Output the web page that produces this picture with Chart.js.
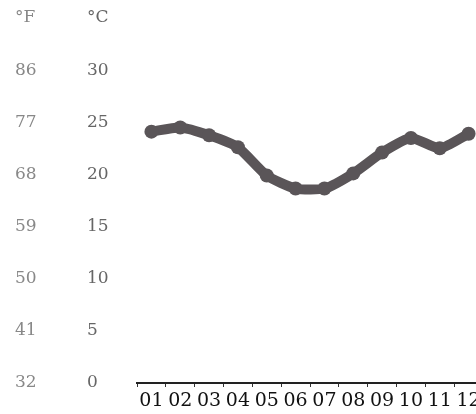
<!DOCTYPE html>
<html>
<head>
<meta charset="utf-8">
<script src="https://cdn.jsdelivr.net/npm/chart.js@4"></script>
<style>
html,body{margin:0;padding:0;overflow:hidden;background:#fff;}
canvas{display:block;}
</style>
</head>
<body>
<canvas id="c" width="490" height="414"></canvas>
<script>
const months = ['01','02','03','04','05','06','07','08','09','10','11','12'];
const tempC = [24.1, 24.5, 23.75, 22.6, 19.9, 18.65, 18.65, 20.1, 22.1, 23.5, 22.5, 23.9];
const cTicks = [0, 5, 10, 15, 20, 25, 30];
const fTicks = [32, 41, 50, 59, 68, 77, 86];
const cHeader = '°C';
const fHeader = '°F';

const C_MIN = 0, C_MAX = 35;

new Chart(document.getElementById('c'), {
  type: 'line',
  data: {
    labels: months,
    datasets: [{
      data: tempC,
      borderColor: '#5a5558',
      backgroundColor: '#5a5558',
      borderWidth: 10,
      pointRadius: 7,
      pointBorderWidth: 0,
      pointBackgroundColor: '#5a5558',
      tension: 0.2,
      yAxisID: 'y'
    }]
  },
  options: {
    responsive: false,
    devicePixelRatio: 1,
    animation: false,
    layout: { padding: { left: 15, top: 18, right: 5, bottom: 0 } },
    plugins: { legend: { display: false }, tooltip: { enabled: false } },
    scales: {
      x: {
        type: 'category',
        offset: true,
        grid: { display: true, drawOnChartArea: false, drawTicks: true, tickLength: 4, color: '#333', lineWidth: 1, offset: true },
        border: { display: true, color: '#222', width: 2 },
        ticks: { color: '#111', font: { family: 'DejaVu Serif', size: 19 }, padding: 3, maxRotation: 0, autoSkip: false },
        afterFit: s => { s.height = 31; }
      },
      y: {
        position: 'left',
        weight: 0,
        min: C_MIN, max: C_MAX,
        grid: { display: false },
        border: { display: false },
        ticks: {
          stepSize: 5,
          crossAlign: 'far',
          color: '#666',
          font: { family: 'DejaVu Serif', size: 17 },
          callback: v => (v === C_MAX ? cHeader : (cTicks.includes(v) ? String(v) : ''))
        },
        afterFit: s => { s.width = 50; }
      },
      yF: {
        position: 'left',
        weight: 10,
        min: C_MIN * 9 / 5 + 32, max: C_MAX * 9 / 5 + 32,
        grid: { display: false },
        border: { display: false },
        ticks: {
          stepSize: 9,
          crossAlign: 'far',
          color: '#888',
          font: { family: 'DejaVu Serif', size: 17 },
          callback: v => (v === C_MAX * 9 / 5 + 32 ? fHeader : (fTicks.includes(v) ? String(v) : ''))
        },
        afterFit: s => { s.width = 72; }
      }
    }
  }
});
</script>
</body>
</html>
